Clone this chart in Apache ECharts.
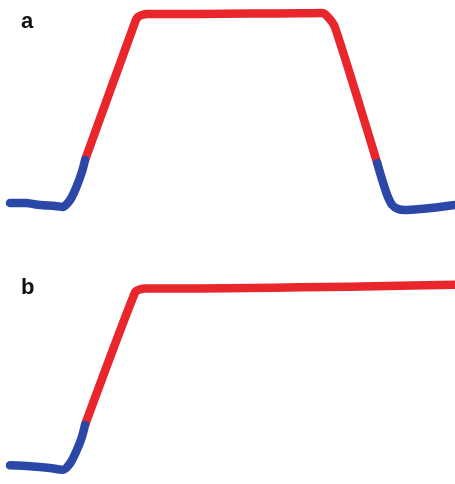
<!DOCTYPE html>
<html>
<head>
<meta charset="utf-8">
<script src="https://cdn.jsdelivr.net/npm/echarts@6/dist/echarts.min.js"></script>
<style>html,body{margin:0;padding:0;background:#fff}#c{width:455px;height:484px}</style>
</head>
<body>
<div id="c"></div>
<script>
// Panel a: time (a.u., 0-100) vs normalized amplitude
const aBlueLeft = [[2.2,0.01],[5.5,0.01],[8.8,0.0],[12.1,-0.005],[13.8,-0.01],[15.4,0.026],[16.7,0.089],[18.0,0.173],[18.7,0.236]];
const aRed = [[18.7,0.236],[29.7,0.958],[30.3,0.984],[31.2,0.995],[32.5,1.0],[44.0,1.0],[54.9,1.002],[65.9,1.004],[70.8,1.005],[72.1,0.984],[73.6,0.932],[82.9,0.22]];
const aBlueRight = [[82.9,0.22],[84.0,0.131],[85.1,0.052],[86.2,0.0],[87.5,-0.021],[89.0,-0.026],[92.3,-0.021],[96.7,-0.01],[100,0.0]];
// Panel b
const bBlueLeft = [[2.2,0.005],[6.6,0.0],[11.0,-0.01],[13.8,-0.02],[15.4,0.016],[16.7,0.08],[18.0,0.164],[18.7,0.233]];
const bRed = [[18.7,0.233],[29.7,0.979],[30.8,0.995],[31.9,1.0],[44.0,1.0],[54.9,1.003],[65.9,1.006],[76.9,1.01],[87.9,1.015],[100,1.021]];
const panelLabels = ['a','b'];

const RED = '#e8262b', BLUE = '#2b48a8';
const yMin = -0.1, yMax = 1.05;
function grid(zero, one){ // pixel y of value 0 and value 1
  const s = zero - one;
  return {left:0, right:0, top: one - (yMax-1)*s, height: s*(yMax-yMin)};
}
const g0 = grid(205,14), g1 = grid(478,289);
function ser(data,color,idx){
  return {type:'line', data, xAxisIndex:idx, yAxisIndex:idx, showSymbol:false, smooth:0.25,
    lineStyle:{color, width:8.5, cap:'round', join:'round'}, silent:true, z: color===RED?2:3};
}
const chart = echarts.init(document.getElementById('c'));
chart.setOption({
  animation:false,
  grid:[g0,g1],
  xAxis:[0,1].map(i=>({type:'value', gridIndex:i, min:0, max:100, show:false})),
  yAxis:[0,1].map(i=>({type:'value', gridIndex:i, min:yMin, max:yMax, show:false})),
  series:[ser(aBlueLeft,BLUE,0),ser(aRed,RED,0),ser(aBlueRight,BLUE,0),ser(bBlueLeft,BLUE,1),ser(bRed,RED,1)],
  graphic:[
    {type:'text', left:21, top:11, style:{text:panelLabels[0], font:'bold 22px "Liberation Sans", Arial', fill:'#111'}},
    {type:'text', left:21, top:277, style:{text:panelLabels[1], font:'bold 22px "Liberation Sans", Arial', fill:'#111'}}
  ]
});
</script>
</body>
</html>
